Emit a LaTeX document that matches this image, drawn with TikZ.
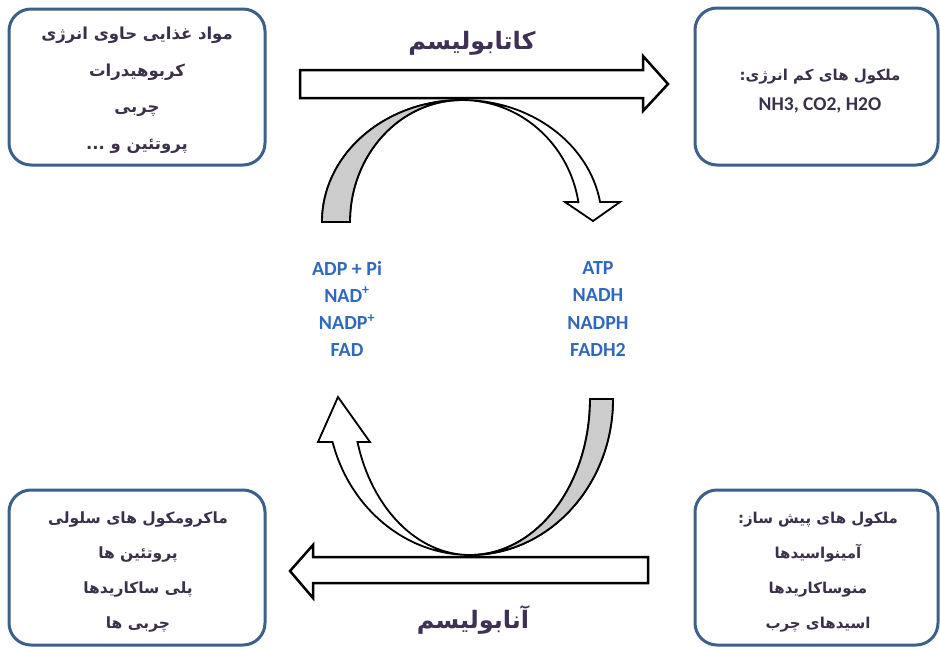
\documentclass[tikz,border=0pt]{standalone}
\usepackage{fontspec}
\setmainfont{Carlito}
\newfontfamily\fa[Script=Arabic]{DejaVu Sans}
\TeXXeTstate=1
\definecolor{boxblue}{HTML}{3E5F8A}
\definecolor{txt}{HTML}{3B3049}
\definecolor{ttl}{HTML}{3F3055}
\definecolor{cblue}{HTML}{2F68BE}
\definecolor{band}{HTML}{CCCCCC}
\tikzset{
  roundbox/.style={draw=boxblue, line width=3pt, rounded corners=22pt, fill=white, inner sep=0pt},
  boxtext/.style={text=txt, align=center, font=\fa\bfseries\fontsize{16.5}{36.5}\selectfont},
  titletext/.style={text=ttl, font=\fa\bfseries\fontsize{24}{26}\selectfont},
  ctext/.style={text=cblue, align=center, font=\bfseries\fontsize{20}{27.3}\selectfont},
  bigarrow/.style={draw=black, line width=2.5pt, fill=white, line join=miter},
  curvearrow/.style={draw=black, line width=1.8pt, fill=white, line join=miter},
  grayband/.style={draw=black, line width=1.8pt, fill=band, line join=round}
}
\begin{document}
\begin{tikzpicture}[x=1pt,y=-1pt]
\useasboundingbox (0,0) rectangle (940,649);
% boxes
\node[roundbox, minimum width=256pt, minimum height=156pt] (tl) at (137,87) {};
\node[roundbox, minimum width=243pt, minimum height=157pt] (tr) at (816.5,86.5) {};
\node[roundbox, minimum width=256pt, minimum height=155pt] (bl) at (137,567.5) {};
\node[roundbox, minimum width=243pt, minimum height=155pt] (br) at (816.5,567.5) {};
% box texts
\node[boxtext] (tltext) at (137,90) {\beginR مواد غذایی حاوی انرژی\endR\\ \beginR کربوهیدرات\endR\\ \beginR چربی\endR\\ \beginR پروتئین و ...\endR};
\node[boxtext, font=\fa\bfseries\fontsize{15}{30}\selectfont] (trtext) at (820,91) {\beginR ملکول های کم انرژی:\endR\\ {\rmfamily\bfseries\fontsize{19.5}{30}\selectfont NH3, CO2, H2O}};
\node[boxtext, font=\fa\bfseries\fontsize{15.5}{35}\selectfont] (bltext) at (138,572) {\beginR ماکرومکول های سلولی\endR\\ \beginR پروتئین ها\endR\\ \beginR پلی ساکاریدها\endR\\ \beginR چربی ها\endR};
\node[boxtext, font=\fa\bfseries\fontsize{15}{35}\selectfont] (brtext) at (818,572) {\beginR ملکول های پیش ساز:\endR\\ \beginR آمینواسیدها\endR\\ \beginR منوساکاریدها\endR\\ \beginR اسیدهای چرب\endR};
% titles
\node[titletext] (cata) at (472,43) {\beginR کاتابولیسم\endR};
\node[titletext] (ana) at (473,620) {\beginR آنابولیسم\endR};
% straight arrows
\draw[bigarrow] (300,70) -- (643,70) -- (643,56) -- (668,84) -- (643,111) -- (643,98) -- (300,98) -- cycle;
\draw[bigarrow] (648,557) -- (313,557) -- (313,545) -- (290,571) -- (313,598) -- (313,583) -- (648,583) -- cycle;
% catabolic curved arrow
\draw[curvearrow] (322,222) arc[start angle=180,end angle=350.6,x radius=140,y radius=122]
  -- (620,202) -- (593,221) -- (565,202) -- (578.4,202.1)
  arc[start angle=350.6,end angle=270,x radius=118,y radius=122]
  arc[start angle=270,end angle=180,x radius=112,y radius=122] -- cycle;
\draw[grayband] (322,222) arc[start angle=180,end angle=270,x radius=140,y radius=122]
  arc[start angle=270,end angle=180,x radius=112,y radius=122] -- cycle;
% anabolic curved arrow
\draw[curvearrow] (613,399) arc[start angle=0,end angle=164,x radius=143,y radius=156]
  -- (318,442) -- (338,397) -- (370,442) -- (357.5,442)
  arc[start angle=164,end angle=90,x radius=117,y radius=156]
  arc[start angle=90,end angle=0,x radius=120,y radius=156] -- cycle;
\draw[grayband] (613,399) arc[start angle=0,end angle=90,x radius=143,y radius=156]
  arc[start angle=90,end angle=0,x radius=120,y radius=156] -- cycle;
% center texts
\node[ctext] (left) at (347,309) {ADP + Pi\\ NAD\textsuperscript{+}\\ NADP\textsuperscript{+}\\ FAD};
\node[ctext] (right) at (598,309) {ATP\\ NADH\\ NADPH\\ FADH2};
\end{tikzpicture}
\end{document}
